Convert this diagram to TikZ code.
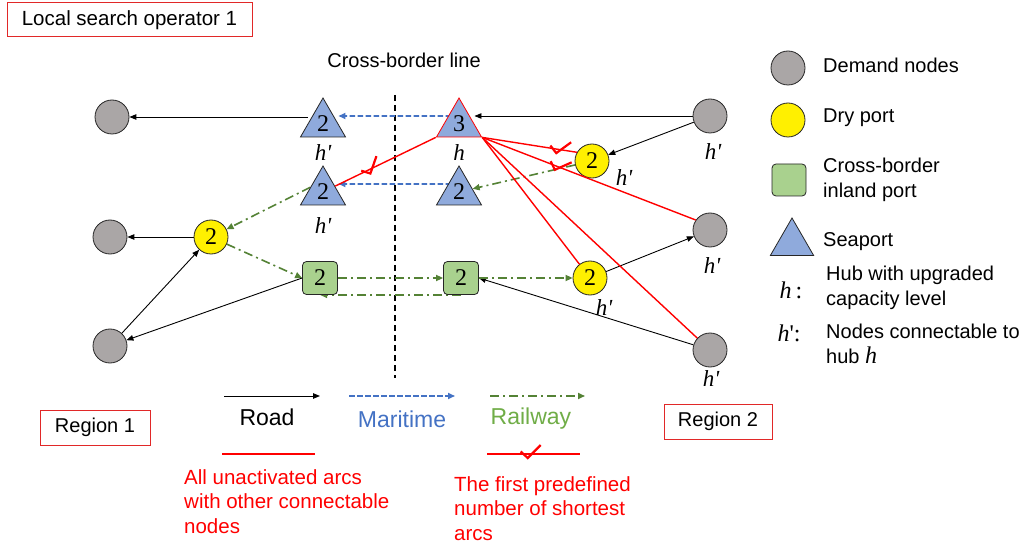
\documentclass[tikz,border=0pt]{standalone}
\usepackage{fontspec}
\setmainfont{Liberation Sans}
\newfontfamily\tnr{Liberation Serif}
\usetikzlibrary{shapes.geometric,arrows.meta,decorations.markings}
\pgfdeclarelayer{bg}
\pgfsetlayers{bg,main}
\definecolor{dgray}{RGB}{170,166,166}
\definecolor{dyellow}{RGB}{255,240,0}
\definecolor{dgreen}{RGB}{169,209,142}
\definecolor{dblue}{RGB}{143,170,220}
\definecolor{mblue}{RGB}{68,114,196}
\definecolor{rgreen}{RGB}{84,130,53}
\definecolor{tgreen}{RGB}{112,173,71}
\definecolor{boxred}{RGB}{225,40,40}
\newcommand\setfs[1]{\fontsize{#1}{#1}\selectfont}
\begin{document}
\begin{tikzpicture}[x=1pt,y=-1pt,
  demand/.style={circle, draw=black!85, fill=dgray, minimum size=34pt, inner sep=0pt, line width=0.8pt},
  dry/.style={circle, draw=black!85, fill=dyellow, minimum size=34pt, inner sep=0pt, line width=0.8pt, font=\tnr\setfs{24}},
  inland/.style={rectangle, rounded corners=4pt, draw=black!85, fill=dgreen, minimum width=35pt, minimum height=33pt, inner sep=0pt, line width=0.8pt, font=\tnr\setfs{24}},
  sea/.style={regular polygon, regular polygon sides=3, minimum size=52pt, inner sep=0pt, draw=black!85, fill=dblue, line width=0.8pt, font=\tnr\setfs{24}},
  hlab/.style={font=\tnr\itshape\setfs{23}, inner sep=0pt},
  lgtext/.style={anchor=west, align=left, font=\fontsize{20}{25}\selectfont, inner sep=0pt},
  redbox/.style={draw=boxred, line width=1pt, inner sep=0pt},
  road/.style={draw=black, line width=0.9pt, -{Triangle[length=7pt,width=5.5pt]}},
  mar/.style={draw=mblue, line width=1.6pt, dash pattern=on 5.5pt off 2.5pt, -{Triangle[length=7pt,width=6pt]}},
  rail/.style={draw=rgreen, line width=1.6pt, dash pattern=on 9pt off 4pt on 2pt off 4pt, -{Triangle[length=7pt,width=6pt]}},
  redline/.style={draw=red, line width=1.4pt},
  chkat/.style={postaction={decorate}, decoration={markings, mark=at position #1 with {\draw[red, line width=2.2pt, line join=miter] (-10pt,2.5pt) -- (-3pt,-4pt) -- (10pt,9pt);}}}
]
\useasboundingbox (0,0) rectangle (1033,545);
\begin{pgfonlayer}{bg}
\fill[white] (0,0) rectangle (1033,545);
\end{pgfonlayer}

% title and texts
\node[redbox, minimum width=245pt, minimum height=34pt, font=\setfs{20.5}] (title) at (129.5,20) {Local search operator 1};
\node[font=\setfs{20}] (cbl) at (404,60) {Cross-border line};

% network nodes
\node[demand] (dTL) at (112,117) {};
\node[demand] (dML) at (110,237) {};
\node[demand] (dBL) at (110,346) {};
\node[dry] (dpL) at (211,237) {2};
\node[sea] (sTL) at (323,124) {2};
\node[sea, draw=red] (h) at (459,124) {3};
\node[sea] (sML) at (323,192) {2};
\node[sea] (sMR) at (459,192) {2};
\node[inland] (gL) at (320,278) {2};
\node[inland] (gR) at (461,278) {2};
\node[demand] (dTR) at (710,116) {};
\node[dry] (dpTR) at (592,161) {2};
\node[demand] (dMR) at (710,230) {};
\node[dry] (dpLR) at (590,278) {2};
\node[demand] (dBR) at (710,350) {};

% labels
\node[hlab] (lsTL) at (323,153) {h\textquotesingle};
\node[hlab] (lh) at (459,153) {h};
\node[hlab] (lsML) at (323,226) {h\textquotesingle};
\node[hlab] (ldTR) at (713,152) {h\textquotesingle};
\node[hlab] (ldpTR) at (624,178) {h\textquotesingle};
\node[hlab] (ldMR) at (712,266) {h\textquotesingle};
\node[hlab] (ldpLR) at (604,308) {h\textquotesingle};
\node[hlab] (ldBR) at (711,379) {h\textquotesingle};

% border line
\coordinate (bt) at (395,95);
\coordinate (bb) at (395,378);

\begin{pgfonlayer}{bg}
\draw[black, line width=1.3pt, dash pattern=on 6pt off 4pt] (bt) -- (bb);
% road
\draw[road] (sTL.west |- dTL.east) -- (dTL.east);
\draw[road] (dTR.west) -- (dTR.west -| h.0);
\draw[road] (dTR) -- (dpTR);
\draw[road] (dpL) -- (dML);
\draw[road] (dBL) -- (dpL);
\draw[road] (gL.west) -- (dBL);
\draw[road] (dBR) -- (gR.east);
\draw[road] (dpLR) -- (dMR);
% maritime
\draw[mar] ([yshift=8pt]h.center) -- ([yshift=8pt]sTL.0);
\draw[mar] ([yshift=8pt]sMR.center) -- ([yshift=8pt]sML.0);
% railway
\draw[rail] (dpTR) -- (sMR);
\draw[rail] (sML.160) -- (dpL);
\draw[rail] (dpL) -- (gL.west);
\draw[rail] (gL.east) -- (gR.west);
\draw[rail] (gR.south) -- (gL.south);
\draw[rail] (gR.east) -- (dpLR.west);
\end{pgfonlayer}

% red arcs
\draw[redline, chkat=0.36] (sML) -- (h.corner 2);
\draw[redline, chkat=0.82] (h.corner 3) -- (dpTR.150);
\draw[redline, chkat=0.36] (h.corner 3) -- (dMR.145);
\draw[redline] (h.corner 3) -- (dpLR);
\draw[redline] (h.corner 3) -- (dBR);

% legend right
\node[demand] (lgD) at (788,68) {};
\node[lgtext] (lgDt) at (823,65) {Demand nodes};
\node[dry] (lgY) at (788,120) {};
\node[lgtext] (lgYt) at (823,118) {Dry port};
\node[inland, minimum width=34pt, minimum height=32pt] (lgG) at (789,180) {};
\node[lgtext] (lgGt) at (823,180) {Cross-border\\inland port};
\node[sea, minimum size=50pt] (lgS) at (792,243) {};
\node[lgtext] (lgSt) at (823,242) {Seaport};
\node[font=\tnr\setfs{24}, inner sep=0pt] (lgh) at (791,290) {\textit{h}\,:};
\node[lgtext] (lght) at (826,288) {Hub with upgraded\\capacity level};
\node[font=\tnr\setfs{24}, inner sep=0pt] (lghp) at (789,333) {\textit{h}\textquotesingle:};
\node[lgtext] (lghpt) at (826,344) {Nodes connectable to\\hub {\tnr\itshape\setfs{24}h}};

% legend bottom
\node[redbox, minimum width=110pt, minimum height=35pt, font=\setfs{20}] (reg1) at (95,427.5) {Region 1};
\node[redbox, minimum width=108pt, minimum height=35pt, font=\setfs{20}] (reg2) at (718,421.5) {Region 2};
\coordinate (ra) at (224,396); \coordinate (rb) at (320,396);
\coordinate (ma) at (349,396); \coordinate (mb) at (455,396);
\coordinate (la) at (490,396); \coordinate (lb) at (585,396);
\draw[road] (ra) -- (rb);
\draw[mar] (ma) -- (mb);
\draw[rail] (la) -- (lb);
\node[font=\setfs{23}] (tRoad) at (267,417) {Road};
\node[font=\setfs{23}, text=mblue] (tMar) at (402,419) {Maritime};
\node[font=\setfs{23}, text=tgreen] (tRail) at (531,419) {Railway};
\coordinate (ua) at (222,454); \coordinate (ub) at (315,454);
\coordinate (ca) at (487,454); \coordinate (cb) at (580,454);
\draw[redline] (ua) -- (ub);
\draw[redline, chkat=0.47] (ca) -- (cb);
\node[anchor=west, align=left, inner sep=0pt, text=red, font=\fontsize{20.5}{24.5}\selectfont] (tUn) at (184,501.5) {All unactivated arcs\\with other connectable\\nodes};
\node[anchor=west, align=left, inner sep=0pt, text=red, font=\fontsize{20.5}{24.5}\selectfont] (tFi) at (454,508.5) {The first predefined\\number of shortest\\arcs};
\end{tikzpicture}
\end{document}
